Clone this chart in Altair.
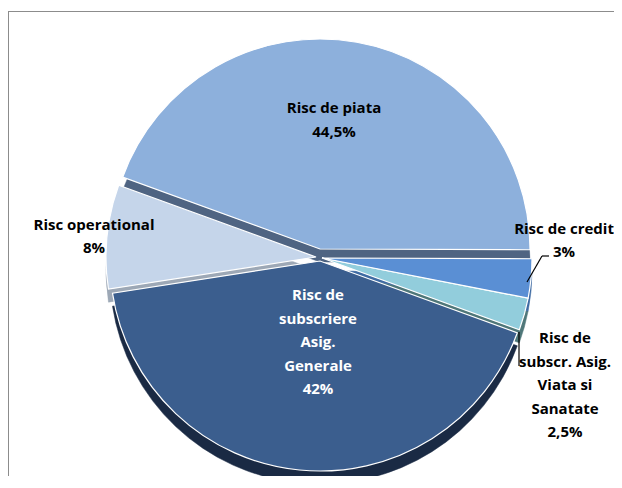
import math
import altair as alt
import pandas as pd

# ---- data ----
categories = [
    "Risc de piata",
    "Risc de credit",
    "Risc de subscr. Asig. Viata si Sanatate",
    "Risc de subscriere Asig. Generale",
    "Risc operational",
]
values = [44.5, 3, 2.5, 42, 8]
value_labels = ["44,5%", "3%", "2,5%", "42%", "8%"]
label_lines = [
    ["Risc de piata"],
    ["Risc de credit"],
    ["Risc de", "subscr. Asig.", "Viata si", "Sanatate"],
    ["Risc de", "subscriere", "Asig.", "Generale"],
    ["Risc operational"],
]
face_colors = ["#8DB0DC", "#5A8FD4", "#92CDDC", "#3B5E8E", "#C5D5EA"]
rim_colors = ["#4F6482", "#3F6BA3", "#4F7779", "#1A2A44", "#9DA8B6"]
text_colors = ["#000000", "#000000", "#000000", "#FFFFFF", "#000000"]

df = pd.DataFrame({
    "category": categories,
    "value": values,
    "order": list(range(len(categories))),
    "label": ["\n".join(l + [v]) for l, v in zip(label_lines, value_labels)],
})

# ---- layout ----
W, H = 606, 468
CX, CY, R, DEPTH = 312, 253, 210, 13
START = math.radians(-70)
shifts = [(0, -12), (2, -3), (2, -3), (0, 0), (-4, -4)]
label_pos = [(326, 100), (556, 221), (557, 330), (310, 287), (86, 217)]
line_heights = [23.5, 23, 23.5, 23.5, 23]
FONT = "Open Sans"

theta_scale = alt.Scale(domain=[0, 100], range=[START, START + 2 * math.pi])


def base_for(i):
    return (
        alt.Chart(df)
        .transform_window(cum="sum(value)", sort=[alt.SortField("order")], frame=[None, 0])
        .transform_calculate(start="datum.cum - datum.value")
        .transform_filter(alt.datum.category == categories[i])
    )


def slice_layer(i, rim):
    dx, dy = shifts[i]
    y = CY + dy + (DEPTH if rim else 0)
    mark = base_for(i).mark_arc(
        radius=R,
        stroke="white" if not rim else rim_colors[i],
        strokeWidth=1.2 if not rim else 0.5,
    )
    return mark.encode(
        theta=alt.Theta("start:Q", scale=theta_scale),
        theta2="cum:Q",
        x=alt.value(CX + dx),
        y=alt.value(y),
        fill=alt.value(rim_colors[i] if rim else face_colors[i]),
    )


def text_layer(i):
    x, y = label_pos[i]
    return base_for(i).mark_text(
        font=FONT, fontSize=15, fontWeight="bold", lineBreak="\n",
        lineHeight=line_heights[i],
        align="center", baseline="middle", color=text_colors[i],
    ).encode(x=alt.value(x), y=alt.value(y), text="label:N")


one = pd.DataFrame({"a": [0]})
frame_left = alt.Chart(one).mark_rule(color="#8C8C8C", strokeWidth=1).encode(
    x=alt.value(0.5), y=alt.value(3), y2=alt.value(H))
frame_top = alt.Chart(one).mark_rule(color="#8C8C8C", strokeWidth=1).encode(
    x=alt.value(0), x2=alt.value(W), y=alt.value(3.5))

lead_style = dict(color="black", strokeWidth=1.2)
lead1 = alt.Chart(one).mark_rule(**lead_style).encode(
    x=alt.value(519), y=alt.value(274), x2=alt.value(534), y2=alt.value(248))
lead2 = alt.Chart(one).mark_rule(**lead_style).encode(
    x=alt.value(534), y=alt.value(248), x2=alt.value(541), y2=alt.value(248))
lead3 = alt.Chart(one).mark_rule(**lead_style).encode(
    x=alt.value(511), y=alt.value(324), x2=alt.value(511), y2=alt.value(358))

draw_order = [3, 4, 2, 1, 0]
layers = [frame_left, frame_top]
layers += [slice_layer(i, True) for i in draw_order]
layers += [slice_layer(i, False) for i in draw_order]
layers += [lead1, lead2, lead3]
layers += [text_layer(i) for i in range(len(categories))]

chart = alt.layer(*layers).properties(
    width=W, height=H, padding=0,
    autosize=alt.AutoSizeParams(type="none"),
).configure_view(stroke=None)

chart.save("out.html", embed_options={"renderer": "svg", "actions": False})
